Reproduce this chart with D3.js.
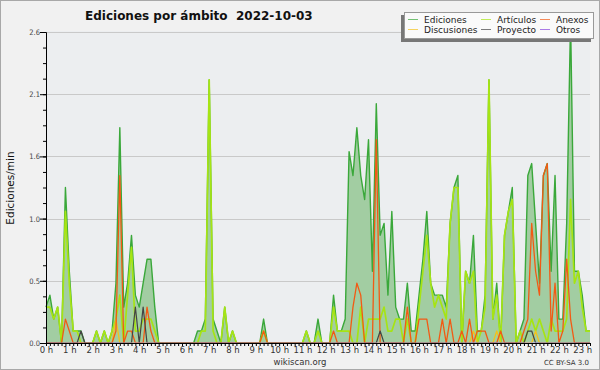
<!DOCTYPE html>
<html>
<head>
<meta charset="utf-8">
<script src="https://cdn.jsdelivr.net/npm/d3@7"></script>
<style>
  body { margin: 0; background: #fff; }
  svg { display: block; font-family: "DejaVu Sans", sans-serif; }
</style>
</head>
<body>
<svg width="600" height="370"></svg>
<script>
// 10-minute bins, 0h00 .. 23h20, edits per minute
const ediciones = [
  0.3,0.4,0.2,0.3,0,1.3,0.6,0.1,0.1,0.1,0,0,
  0,0.1,0,0.1,0,0.1,0.5,1.8,0.3,0.5,0.9,0.4,
  0.3,0.5,0.7,0.7,0.3,0,0,0,0,0,0,0,
  0,0,0,0.1,0.1,0.2,2.2,0.2,0.1,0,0.3,0,
  0.1,0,0,0,0,0,0,0,0.2,0,0,0,
  0,0,0,0,0,0,0,0.1,0,0,0.2,0,
  0,0,0.4,0.1,0.1,0.2,1.6,1.4,1.8,1.4,1.2,1.7,
  0.6,2.0,0.9,1.0,0.4,1.1,0.3,0.2,0.2,0.5,0.1,0.1,
  0.4,0.7,1.1,0.5,0.4,0.4,0.4,0.3,1.0,1.3,1.4,0,
  0.6,0.5,0.9,0.1,0.1,0.4,2.2,0.2,0.5,0,0.9,1.1,
  1.3,0,0.1,0.2,1.4,1.5,1.0,0.5,1.4,1.5,0.6,1.4,
  0.2,0.2,1.0,2.7,0.6,0.6,0.4,0.1,0.1
];
const articulos = [
  0.3,0.3,0.2,0.3,0,1.1,0.5,0.1,0.1,0,0,0,
  0,0.1,0,0.1,0,0.1,0.2,0.4,0,0.4,0.8,0.1,
  0.1,0.2,0.2,0.2,0.1,0,0,0,0,0,0,0,
  0,0,0,0,0.1,0.1,2.2,0.1,0,0,0.3,0,
  0.1,0,0,0,0,0,0,0,0.1,0,0,0,
  0,0,0,0,0,0,0,0.1,0,0,0.1,0,
  0,0,0.3,0.1,0.1,0.1,0.1,0,0,0.3,0,0.2,
  0.2,0.2,0.2,0.3,0.1,0.1,0.2,0.2,0,0.2,0,0,
  0.3,0.6,0.9,0.5,0.3,0.4,0.3,0.2,1.0,1.3,1.3,0,
  0.6,0.5,0.6,0,0.1,0.3,2.2,0.2,0.4,0,0.9,1.1,
  1.2,0,0.1,0,0.1,0.2,0.1,0.2,0.1,0,0.2,0.1,
  0.1,0.1,0.2,1.2,0.5,0.6,0.3,0.1,0.1
];
const anexos = [
  0,0,0,0,0,0.2,0.1,0,0,0,0,0,
  0,0,0,0,0,0,0.1,1.4,0,0.1,0.1,0,
  0,0,0.3,0.1,0,0,0,0,0,0,0,0,
  0,0,0,0,0,0,0,0,0,0,0,0,
  0,0,0,0,0,0,0,0,0.1,0,0,0,
  0,0,0,0,0,0,0,0,0,0,0,0,
  0,0,0.1,0,0,0,0,0.3,0.5,0.4,0,0,
  0,1.7,0,0,0,0,0,0,0,0.3,0,0,
  0.2,0.2,0.2,0,0,0,0.2,0,0.2,0,0,0.1,
  0,0.2,0,0.1,0.1,0.1,0,0,0,0.1,0,0,
  0,0,0,0.1,0.2,1.0,0.6,0.4,1.4,1.5,0.1,0.5,
  0,0.1,0.7,0.2,0,0,0,0,0
];
const discusiones = [
  0,0,0,0,0,0,0,0,0,0,0,0,
  0,0,0,0,0,0,0.2,0,0,0,0,0,
  0,0,0,0,0,0,0,0,0,0,0,0,
  0,0,0,0,0,0,0,0,0,0,0,0,
  0,0,0,0,0,0,0,0,0,0,0,0,
  0,0,0,0,0,0,0,0,0,0,0,0,
  0,0,0,0,0,0,0,0,0,0,0,0,
  0,0,0,0,0,0,0,0,0,0,0,0,
  0,0,0,0,0,0,0,0,0,0,0,0,
  0,0,0.1,0,0,0,0,0,0.1,0,0,0,
  0,0,0,0,0,0,0.1,0,0,0,0,0,
  0,0,0,0,0,0,0,0,0
];
const proyecto = [
  0,0,0,0,0,0,0,0,0,0.1,0,0,
  0,0,0,0,0,0,0,0,0,0,0,0.3,
  0,0.3,0,0,0,0,0,0,0,0,0,0,
  0,0,0,0,0,0,0,0,0,0,0,0,
  0,0,0,0,0,0,0,0,0,0,0,0,
  0,0,0,0,0,0,0,0,0,0,0,0,
  0,0,0,0,0,0,0,0,0,0,0,0,
  0,0,0.1,0,0,0,0,0,0,0,0,0,
  0,0,0,0,0,0,0,0,0,0,0,0,
  0,0,0,0,0,0,0,0,0,0,0,0,
  0,0,0,0,0.1,0.1,0,0,0,0,0,0,
  0,0,0,0,0,0,0,0,0
];
const otros = ediciones.map(() => 0);

const hourLabels = d3.range(24).map(h => h + " h");
const yMajor = [0, 0.52, 1.04, 1.56, 2.08, 2.6];

const colors = {
  "Ediciones": "#3aa83a",
  "Artículos": "#a6e414",
  "Anexos": "#f25a14",
  "Discusiones": "#f2c21c",
  "Proyecto": "#444444",
  "Otros": "#8844dd"
};

var svg = d3.select("svg"),
    width = +svg.attr("width"),
    height = +svg.attr("height");

const mLeft = 46, mRight = 590, mTop = 32, mBottom = 343;

// background + frame
svg.append("rect").attr("width", width).attr("height", height).attr("fill", "#f1f1f1");
svg.append("rect").attr("x", mLeft).attr("y", mTop - 1).attr("width", mRight - mLeft).attr("height", mBottom - mTop + 1)
    .attr("fill", "#eceef0");
svg.append("rect").attr("x", 0.5).attr("y", 0.5).attr("width", width - 1).attr("height", height - 1)
    .attr("fill", "none").attr("stroke", "#a8a8a8");

// keep zero-valued lines from bleeding under the x axis
svg.append("clipPath").attr("id", "plotclip").append("rect")
    .attr("x", mLeft - 3).attr("y", 0).attr("width", mRight - mLeft + 6).attr("height", mBottom - 0.6);

var x = d3.scaleLinear().domain([0, ediciones.length - 1]).range([mLeft, mRight]);
var y = d3.scaleLinear().domain([0, 2.6]).range([mBottom, mTop]);

// grid
svg.append("g").selectAll("line").data(yMajor.slice(1)).enter().append("line")
    .attr("x1", mLeft).attr("x2", mRight)
    .attr("y1", d => Math.round(y(d)) + 0.5).attr("y2", d => Math.round(y(d)) + 0.5)
    .attr("stroke", "#c9c9c9");

// area + lines
var area = d3.area().x((d, i) => x(i)).y0(y(0)).y1(d => y(d));
var line = d3.line().x((d, i) => x(i)).y(d => y(d));

var plot = svg.append("g").attr("clip-path", "url(#plotclip)");
plot.append("path").datum(ediciones).attr("d", area).attr("fill", "#a2cda2");

const drawOrder = [
  ["Ediciones", ediciones, 1.4],
  ["Artículos", articulos, 1.7],
  ["Discusiones", discusiones, 1.3],
  ["Anexos", anexos, 1.3],
  ["Proyecto", proyecto, 1.2],
  ["Otros", otros, 1]
];
drawOrder.forEach(function (s) {
  plot.append("path").datum(s[1]).attr("d", line)
      .attr("fill", "none").attr("stroke", colors[s[0]])
      .attr("stroke-width", s[2]).attr("stroke-linejoin", "round");
});

// y axis
var yAxis = svg.append("g").attr("transform", "translate(" + mLeft + ",0)")
    .call(d3.axisLeft(y).tickValues(yMajor).tickSize(6).tickSizeOuter(0).tickFormat(d3.format(".1f")));
svg.append("g").attr("transform", "translate(" + mLeft + ",0)")
    .call(d3.axisLeft(y).tickValues(d3.range(0, 2.6, 0.13)).tickSize(3).tickSizeOuter(0).tickFormat(""));
yAxis.selectAll("text").attr("font-size", 7.5).attr("fill", "#444").attr("x", -6)
    .attr("font-family", "DejaVu Sans Condensed, DejaVu Sans");

// x axis
svg.append("g").attr("transform", "translate(0," + mBottom + ")")
    .call(d3.axisBottom(x).tickValues(d3.range(0, ediciones.length)).tickSize(3).tickSizeOuter(0).tickFormat(""));
var xLab = svg.append("g").attr("transform", "translate(0," + mBottom + ")")
    .call(d3.axisBottom(x).tickValues(d3.range(0, 24).map(h => h * 6).filter(v => v < ediciones.length))
        .tickSize(0).tickFormat(d => hourLabels[d / 6]));
xLab.select(".domain").remove();
xLab.selectAll("text").attr("font-size", 8.5).attr("fill", "#333").attr("y", 4).attr("dy", "0.71em")
    .attr("font-family", "DejaVu Sans");
svg.selectAll(".domain").attr("stroke", "#000");
svg.selectAll(".tick line").attr("stroke", "#000");

// titles
svg.append("text").attr("x", 85).attr("y", 20).attr("font-size", 12).attr("font-weight", "bold")
    .attr("fill", "#111").style("white-space", "pre").text("Ediciones por ámbito  2022-10-03");
svg.append("text").attr("transform", "translate(14,188) rotate(-90)").attr("text-anchor", "middle")
    .attr("font-size", 10.5).attr("fill", "#111").text("Ediciones/min");
svg.append("text").attr("x", 300).attr("y", 365).attr("text-anchor", "middle")
    .attr("font-size", 8.5).attr("fill", "#333").text("wikiscan.org");
svg.append("text").attr("x", 589).attr("y", 365).attr("text-anchor", "end")
    .attr("font-size", 7).attr("fill", "#333").text("CC BY-SA 3.0");

// legend
var lg = svg.append("g");
lg.append("rect").attr("x", 401).attr("y", 15).attr("width", 190).attr("height", 27).attr("fill", "#777");
lg.append("rect").attr("x", 404.5).attr("y", 12.5).attr("width", 189).attr("height", 26)
    .attr("fill", "#fafafa").attr("stroke", "#999");
const legendOrder = ["Ediciones", "Artículos", "Anexos", "Discusiones", "Proyecto", "Otros"];
const colX = [408, 481, 540];
legendOrder.forEach(function (name, k) {
  let cx = colX[k % 3], cy = k < 3 ? 19 : 29;
  lg.append("line").attr("x1", cx).attr("x2", cx + 10).attr("y1", cy + 0.5).attr("y2", cy + 0.5)
      .attr("stroke", colors[name]).attr("stroke-opacity", 0.7);
  lg.append("text").attr("x", cx + 16).attr("y", cy + 3.5).attr("font-size", 9).attr("fill", "#222")
      .text(name);
});
</script>
</body>
</html>
